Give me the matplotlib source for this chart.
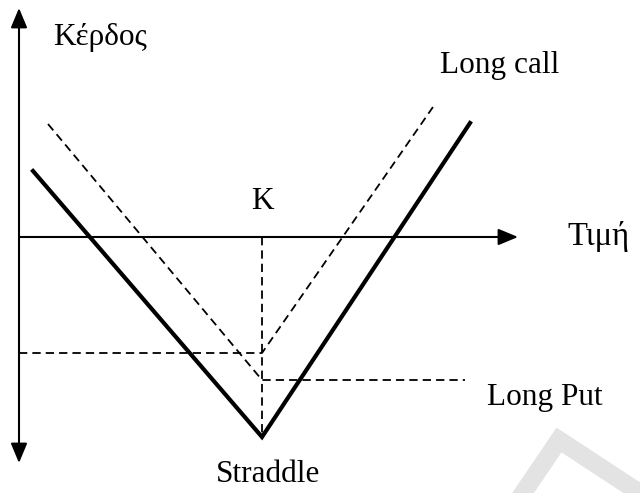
import matplotlib

matplotlib.use("Agg")
import matplotlib.pyplot as plt

# payoff diagram, x = price offset from origin, y = profit
strike = 243

straddle_x = [14, 243, 451]
straddle_y = [66, -200, 114]

call_x = [0, 243, 414]
call_y = [-116, -116, 130]

put_x = [29, 243, 446]
put_y = [113, -143, -143]

# faint watermark in the lower right corner
mark_x = [500, 540, 630]
mark_y = [-262, -203, -262]

plt.rcParams["font.family"] = ["Liberation Serif", "DejaVu Serif"]


def main():
    fig = plt.figure(figsize=(6.4, 4.93), dpi=100)
    ax = fig.add_axes([0, 0, 1, 1])
    ax.set_xlim(-19, 621)
    ax.set_ylim(-256, 237)
    ax.axis("off")

    ax.plot(mark_x, mark_y, color="#e3e3e3", lw=13, solid_joinstyle="miter", zorder=0)

    arrow = dict(arrowstyle="-|>,head_length=0.6,head_width=0.25", mutation_scale=20,
                 lw=1.5, color="black", shrinkA=0, shrinkB=0)
    ax.annotate("", xy=(499, 0), xytext=(0, 0), arrowprops=arrow)
    both = dict(arrow, arrowstyle="<|-|>,head_length=0.6,head_width=0.25")
    ax.annotate("", xy=(0, 229), xytext=(0, -226), arrowprops=both)

    dash = dict(color="black", lw=1.3, dashes=(4.6, 2.8))
    ax.plot(call_x, call_y, **dash)
    ax.plot(put_x, put_y, **dash)
    ax.plot([strike, strike], [0, min(straddle_y)], **dash)

    ax.plot(straddle_x, straddle_y, color="black", lw=3, solid_joinstyle="miter")

    fs = 22.5
    ax.text(34, 192, "Κέρδος", fontsize=fs, va="baseline")
    ax.text(421, 164, "Long call", fontsize=fs, va="baseline")
    ax.text(strike, 28, "K", fontsize=fs, ha="center", va="baseline")
    ax.text(548, -8, "Τιμή", fontsize=fs + 1, va="baseline")
    ax.text(468, -168, "Long Put", fontsize=fs, va="baseline")
    ax.text(strike + 6, -245, "Straddle", fontsize=fs, ha="center", va="baseline")

    fig.savefig("out.png", dpi=100)
    plt.close(fig)


if __name__ == "__main__":
    main()
